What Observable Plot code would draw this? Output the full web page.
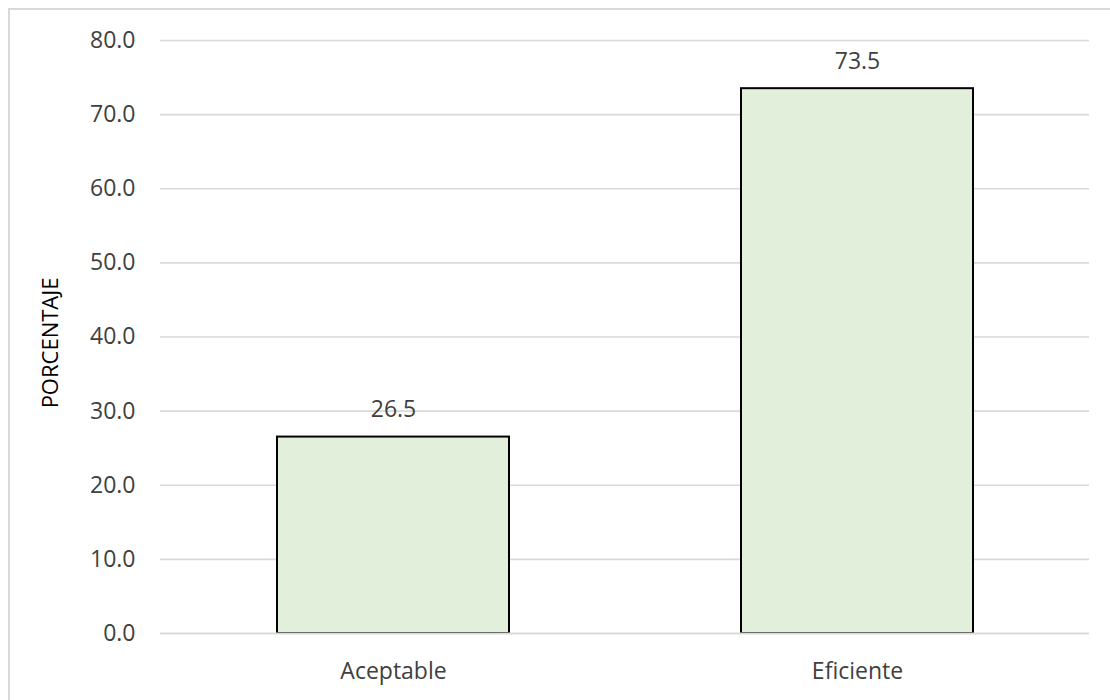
<!DOCTYPE html>
<html>
<head>
<meta charset="utf-8">
<script src="https://cdn.jsdelivr.net/npm/d3@7"></script>
<script src="https://cdn.jsdelivr.net/npm/@observablehq/plot@0.6"></script>
<style>
  html, body { margin: 0; padding: 0; background: #fff; }
  #wrap { position: relative; width: 1110px; height: 700px; overflow: hidden; }
  #frame { position: absolute; left: 8px; top: 8px; width: 1200px; height: 800px;
           border-left: 2px solid #d9d9d9; border-top: 2px solid #d9d9d9; box-sizing: border-box; }
  #chart { position: absolute; left: 0; top: 0; }
</style>
</head>
<body>
<div id="wrap"><div id="frame"></div><div id="chart"></div></div>
<script>
const categories = ["Aceptable", "Eficiente"];
const values = [26.5, 73.5];
const yTicks = [0, 10, 20, 30, 40, 50, 60, 70, 80];

const data = categories.map((c, i) => ({category: c, value: values[i]}));

const chart = Plot.plot({
  width: 1110,
  height: 700,
  marginLeft: 160,
  marginRight: 21,
  marginTop: 40,
  marginBottom: 67,
  style: {fontFamily: "'Open Sans', sans-serif", fontSize: "23px", color: "#404040", background: "transparent"},
  x: {domain: categories, paddingInner: 0.5, paddingOuter: 0.25, label: null},
  y: {domain: [0, 80], label: null},
  marks: [
    Plot.ruleY(yTicks.filter(d => d > 0), {stroke: "#d9d9d9", strokeWidth: 1.6}),
    Plot.barY(data, {x: "category", y: "value", fill: "#E2EFDA", stroke: "#000", strokeWidth: 2}),
    Plot.ruleY([0], {stroke: "#d9d9d9", strokeWidth: 2}),
    Plot.text(data, {x: "category", y: "value", text: d => d.value.toFixed(1), dy: -27, fontSize: 23, fill: "#404040"}),
    Plot.axisY(yTicks, {tickSize: 0, tickPadding: 25, tickFormat: d => d.toFixed(1), fontSize: 23, label: null}),
    Plot.axisX({tickSize: 0, tickPadding: 29, fontSize: 23, label: null}),
    Plot.text(["PORCENTAJE"], {frameAnchor: "left", textAnchor: "middle", dx: -110, dy: 6, rotate: -90, fontSize: 22, fill: "#000"})
  ]
});
document.getElementById("chart").appendChild(chart);
</script>
</body>
</html>
